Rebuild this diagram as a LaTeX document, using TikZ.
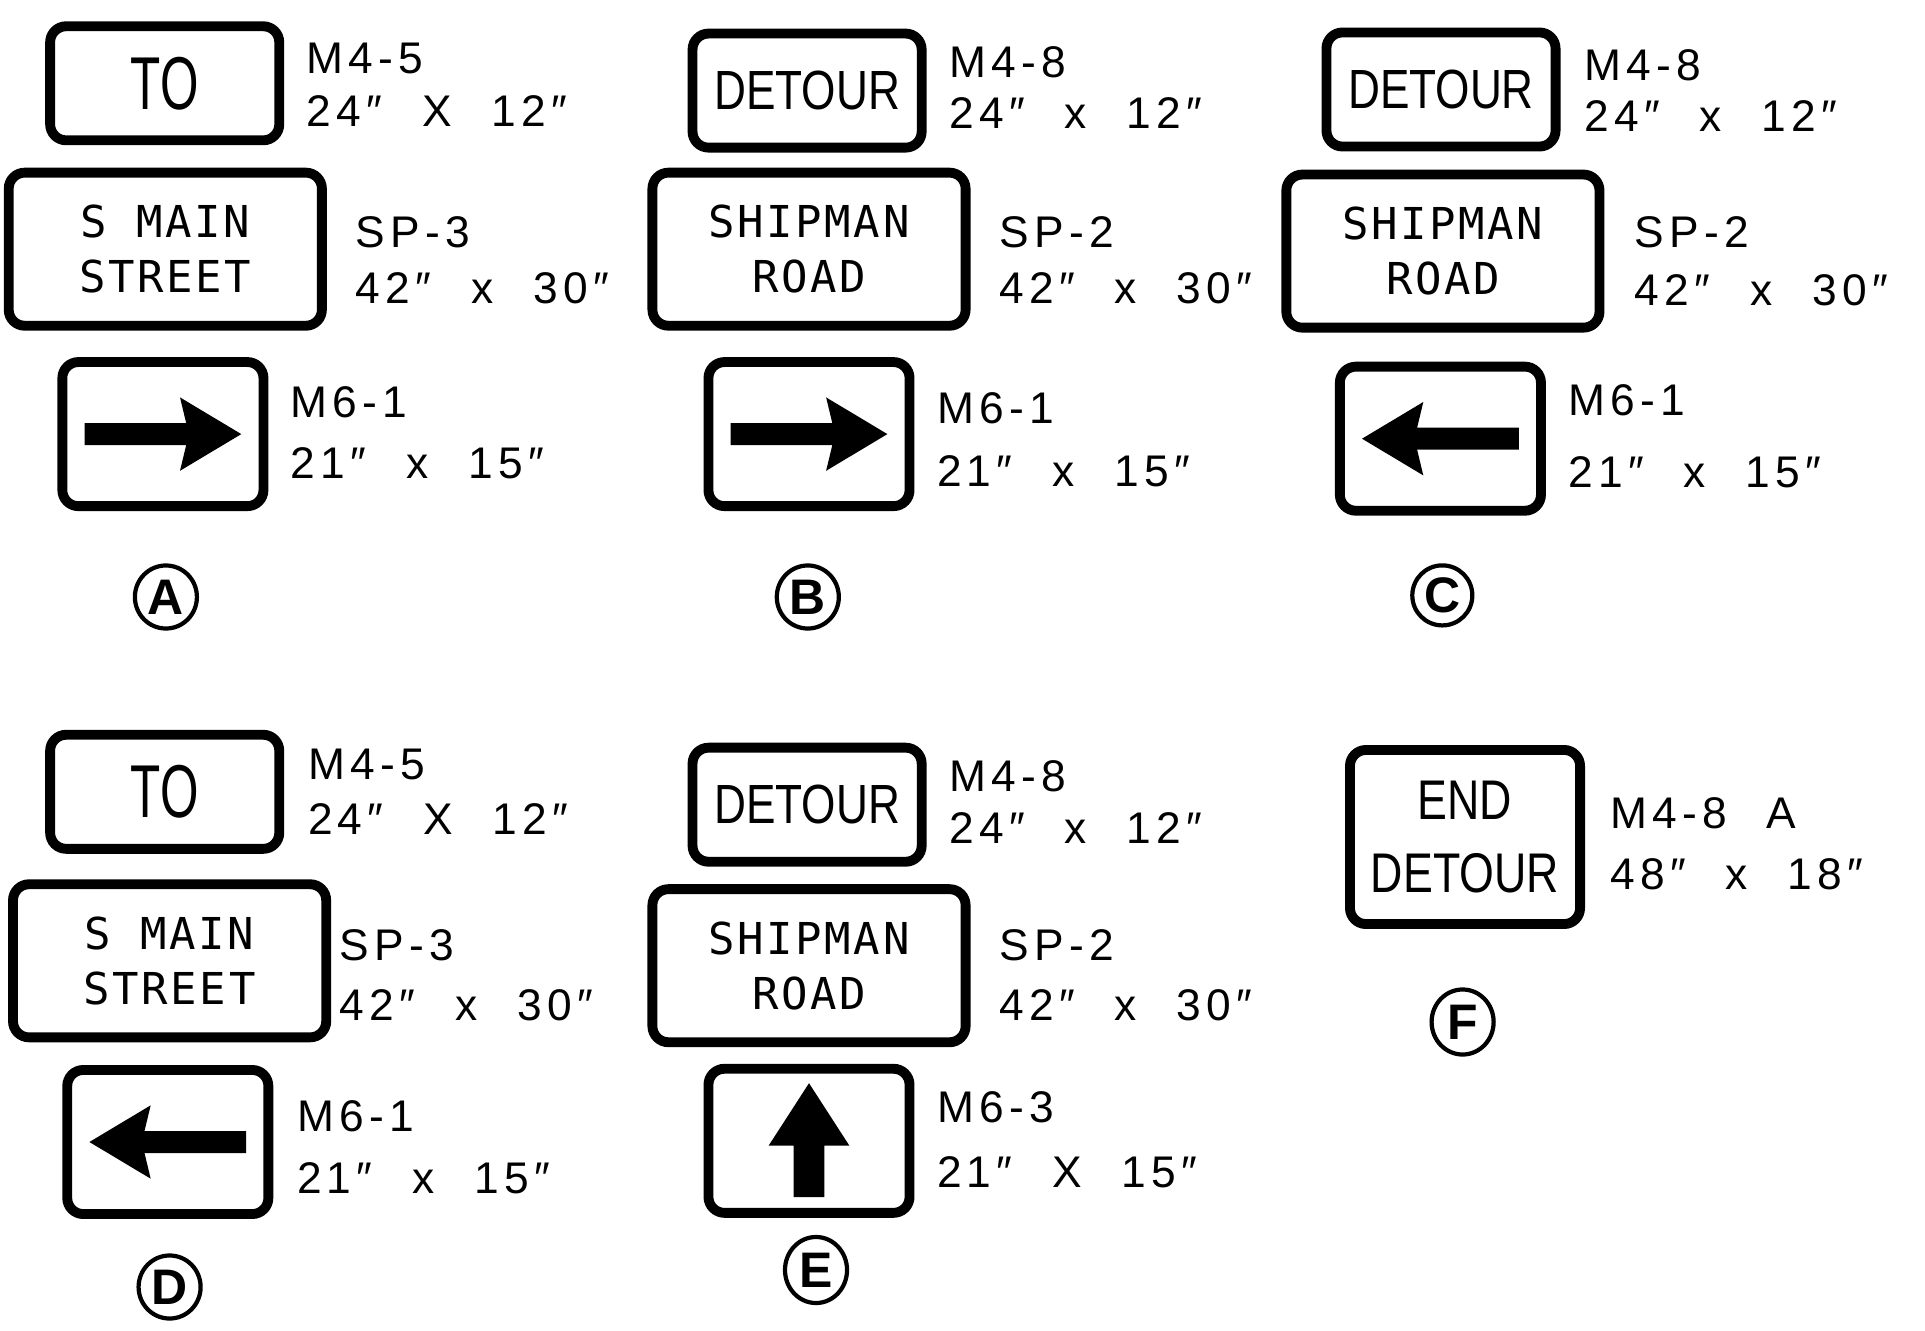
\documentclass[tikz,border=0pt]{standalone}
\usepackage{fontspec}
\setmainfont{Liberation Sans}
\newfontfamily\codefont{Liberation Sans}[LetterSpace=12]
\newfontfamily\streetfont{DejaVu Sans Mono}[LetterSpace=6]
\newfontfamily\detourfont{Liberation Sans}[FakeStretch=0.8]
\newfontfamily\narrowfont{Liberation Sans}[FakeStretch=0.66]
\usetikzlibrary{shapes.geometric}

% Gap around the x in a size
\newcommand{\gap}{\hspace{0.9em}}
% Horizontal arrow on a sign, #2 = 0 (right) or 180 (left)
\newcommand{\signarrow}[2]{%
    \fill[shift={(#1.center)}, rotate=#2] (-78.4,-11) -- (23.3,-11) -- (17.1,-36.7) -- (78.4,0)
        -- (17.1,36.7) -- (23.3,11) -- (-78.4,11) -- cycle;}

\tikzset{
    sign/.style={draw, line width=2.8pt, rounded corners=0.16cm, inner sep=0pt, align=center},
    topsign/.style={sign, minimum width=2.29cm, minimum height=1.14cm},
    midsign/.style={sign, minimum width=3.13cm, minimum height=1.53cm,
        font=\streetfont\fontsize{12.5}{15.7}\selectfont},
    arrowsign/.style={sign, minimum width=2.01cm, minimum height=1.44cm},
    endsign/.style={sign, minimum width=2.30cm, minimum height=1.74cm,
        font=\detourfont\fontsize{15.9}{21}\selectfont},
    tofont/.style={font=\narrowfont\fontsize{21.3}{24}\selectfont},
    detour/.style={font=\detourfont\fontsize{15.7}{18}\selectfont},
    code/.style={anchor=base west, inner sep=0pt, font=\codefont\fontsize{12.6}{15}\selectfont},
    panelmark/.style={draw, ellipse, line width=1.2pt, inner sep=0pt,
        minimum width=0.62cm, minimum height=0.63cm, font=\bfseries\fontsize{14.2}{17}\selectfont}
}

\begin{document}
\begin{tikzpicture}[x=0.01cm, y=-0.01cm]
    % Page size
    \useasboundingbox (0,0) rectangle (1925,1331);

    % Panel A
    \node[topsign, tofont] (toA) at (164.7,83.3) {TO};
    \node[midsign] (streetA) at (165.3,249.2) {S MAIN\\STREET};
    \node[arrowsign] (arrowA) at (162.9,434.1) {};
    \signarrow{arrowA}{0}
    \node[code] (codeA1) at (306,73.5) {M4-5};
    \node[code] (sizeA1) at (306,126.1) {24″\gap X\gap 12″};
    \node[code] (codeA2) at (355,247.3) {SP-3};
    \node[code] (sizeA2) at (355,303.7) {42″\gap x\gap 30″};
    \node[code] (codeA3) at (290,417.5) {M6-1};
    \node[code] (sizeA3) at (290,478.8) {21″\gap x\gap 15″};
    \node[panelmark] (markA) at (165.9,597) {A};

    % Panel B
    \node[topsign, detour] (detourB) at (807.1,90.6) {DETOUR};
    \node[midsign] (streetB) at (809,249.2) {SHIPMAN\\ROAD};
    \node[arrowsign] (arrowB) at (809,434.1) {};
    \signarrow{arrowB}{0}
    \node[code] (codeB1) at (948.6,77.1) {M4-8};
    \node[code] (sizeB1) at (948.6,128.6) {24″\gap x\gap 12″};
    \node[code] (codeB2) at (998.8,247.3) {SP-2};
    \node[code] (sizeB2) at (998.8,303.7) {42″\gap x\gap 30″};
    \node[code] (codeB3) at (936.3,423.7) {M6-1};
    \node[code] (sizeB3) at (936.3,486.1) {21″\gap x\gap 15″};
    \node[panelmark] (markB) at (807.8,597) {B};

    % Panel C
    \node[topsign, detour] (detourC) at (1441,89.5) {DETOUR};
    \node[midsign] (streetC) at (1442.9,251.1) {SHIPMAN\\ROAD};
    \node[arrowsign] (arrowC) at (1440.4,438.7) {};
    \signarrow{arrowC}{180}
    \node[code] (codeC1) at (1583.6,80.2) {M4-8};
    \node[code] (sizeC1) at (1583.6,132) {24″\gap x\gap 12″};
    \node[code] (codeC2) at (1634.2,248) {SP-2};
    \node[code] (sizeC2) at (1634.2,306) {42″\gap x\gap 30″};
    \node[code] (codeC3) at (1567.5,415.9) {M6-1};
    \node[code] (sizeC3) at (1567.5,487.4) {21″\gap x\gap 15″};
    \node[panelmark, minimum width=0.6cm, minimum height=0.6cm] (markC) at (1442.3,595.4) {C};

    % Panel D
    \node[topsign, tofont] (toD) at (164.7,791.8) {TO};
    \node[midsign] (streetD) at (169.6,960.8) {S MAIN\\STREET};
    \node[arrowsign] (arrowD) at (167.8,1142) {};
    \signarrow{arrowD}{180}
    \node[code] (codeD1) at (307.3,779.6) {M4-5};
    \node[code] (sizeD1) at (307.3,834.7) {24″\gap X\gap 12″};
    \node[code] (codeD2) at (339.2,960.8) {SP-3};
    \node[code] (sizeD2) at (339.2,1020.8) {42″\gap x\gap 30″};
    \node[code] (codeD3) at (296.3,1131) {M6-1};
    \node[code] (sizeD3) at (296.3,1193.5) {21″\gap x\gap 15″};
    \node[panelmark] (markD) at (169.6,1287) {D};

    % Panel E
    \node[topsign, detour] (detourE) at (807.1,804.7) {DETOUR};
    \node[midsign] (streetE) at (809,965.7) {SHIPMAN\\ROAD};
    \node[arrowsign] (arrowE) at (809,1140.8) {};
    \fill[shift={(arrowE.center)}] (0,-57.6) -- (40.4,4.9) -- (15.3,4.9) -- (15.3,56.3)
        -- (-15.3,56.3) -- (-15.3,4.9) -- (-40.4,4.9) -- cycle;
    \node[code] (codeE1) at (948.6,791.8) {M4-8};
    \node[code] (sizeE1) at (948.6,843.3) {24″\gap x\gap 12″};
    \node[code] (codeE2) at (998.8,960.8) {SP-2};
    \node[code] (sizeE2) at (998.8,1020.8) {42″\gap x\gap 30″};
    \node[code] (codeE3) at (936.3,1122.5) {M6-3};
    \node[code] (sizeE3) at (936.3,1187.4) {21″\gap X\gap 15″};
    \node[panelmark, minimum height=0.66cm] (markE) at (816,1270) {E};

    % Panel F
    \node[endsign] (endF) at (1465,837) {END\\DETOUR};
    \node[code] (codeF1) at (1609.5,828) {M4-8\gap A};
    \node[code] (sizeF1) at (1609.5,889) {48″\gap x\gap 18″};
    \node[panelmark, minimum height=0.65cm] (markF) at (1462.6,1022) {F};

\end{tikzpicture}
\end{document}
